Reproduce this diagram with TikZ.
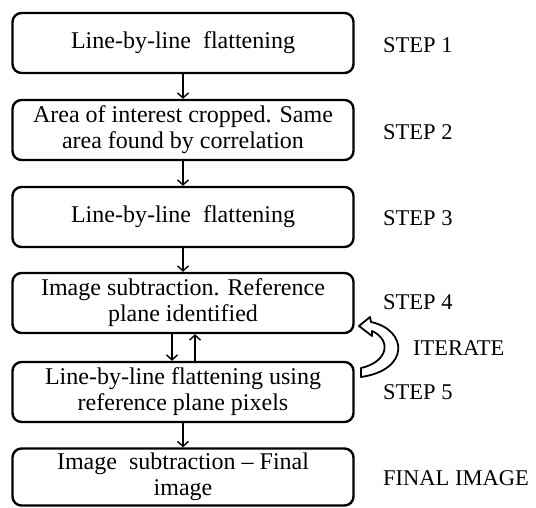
\documentclass[tikz,border=0pt]{standalone}
\usepackage{fontspec}
\setmainfont{Liberation Serif}
\usetikzlibrary{arrows.meta}
\tikzset{%
  stepbox/.style   = {shape=rectangle, rounded corners=9pt,%
                      draw, line width=2.4pt, align=center,%
                      minimum width=341pt, minimum height=60pt, inner sep=2pt},%
  steplabel/.style = {anchor=west, inner sep=1pt, font=\fontsize{22.5}{26}\selectfont},%
  flow/.style      = {line width=1.4pt, -{Straight Barb[length=5pt,width=11pt]}}%
}

\begin{document}
\begin{tikzpicture}[x=1pt,y=-1pt,every node/.style = {font=\fontsize{24}{26}\selectfont}]
	\useasboundingbox (0,0) rectangle (536,507);
	% the six steps
	\node [stepbox] (s1) at (183,43)  {Line-by-line\ \ flattening};
	\node [stepbox] (s2) at (183,130) {Area of interest cropped. Same\\area found by correlation};
	\node [stepbox] (s3) at (183,217) {Line-by-line\ \ flattening};
	\node [stepbox] (s4) at (183,303) {Image subtraction. Reference\\plane identified};
	\node [stepbox] (s5) at (183,392) {Line-by-line flattening using\\reference plane pixels};
	\node [stepbox, minimum height=57pt] (s6) at (183,477) {Image\ \ subtraction -- Final\\image};
	% labels on the right
	\node [steplabel] (l1) at (382,45)  {STEP 1};
	\node [steplabel] (l2) at (382,132) {STEP 2};
	\node [steplabel] (l3) at (382,218) {STEP 3};
	\node [steplabel] (l4) at (382,302) {STEP 4};
	\node [steplabel] (l5) at (382,392) {STEP 5};
	\node [steplabel] (l6) at (382,478) {FINAL IMAGE};
	\node [steplabel] (it) at (412,348) {ITERATE};
	% connectors
	\draw [flow] (s1) -- (s2);
	\draw [flow] (s2) -- (s3);
	\draw [flow] (s3) -- (s4);
	\draw [flow] ([xshift=-11pt]s4.south) -- ([xshift=-11pt]s5.north);
	\draw [flow] ([xshift=12pt]s5.north) -- ([xshift=12pt]s4.south);
	\draw [flow] (s5) -- (s6);
	% hollow iterate arrow
	\draw [line width=1.8pt, fill=white, line join=round]
		(361,368) .. controls (388,362) and (392,340) .. (372,331)
		-- (372,336) -- (359,326) -- (370,317) -- (371,322)
		.. controls (408,330) and (410,370) .. (361,377) -- cycle;
\end{tikzpicture}
\end{document}
